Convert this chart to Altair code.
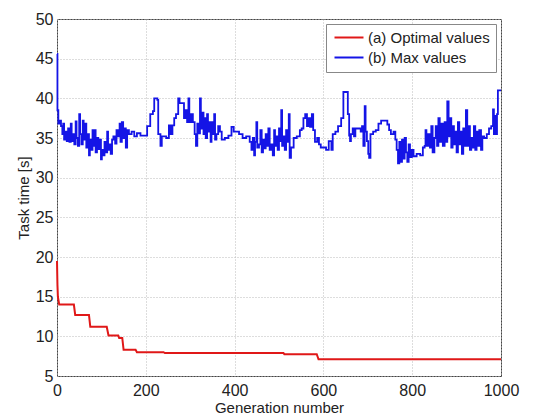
import altair as alt
import pandas as pd

# Red series: optimal values (generation, task time)
opt_gen = [0, 1, 2, 5, 38, 41, 72, 75, 112, 116, 138, 140, 147, 150, 177, 180, 240, 243, 510, 512, 585, 589, 1000]
opt_val = [19.5, 16.5, 15.0, 14.0, 14.0, 12.7, 12.7, 11.2, 11.2, 10.1, 10.1, 9.8, 9.8, 8.3, 8.3, 8.0, 8.0, 7.9, 7.9, 7.75, 7.75, 7.1, 7.1]

# Blue series: max values (generation, task time)
max_gen = [0, 1, 3, 6, 9, 12, 14, 16, 19, 22, 25, 28, 31, 33, 36, 39, 42, 44, 47, 50,
           52, 55, 58, 60, 63, 66, 69, 72, 74, 77, 80, 82, 85, 87, 90, 93, 96, 99, 101, 104,
           107, 110, 113, 115, 118, 121, 124, 127, 131, 134, 137, 141, 143, 146, 149, 152, 155, 158, 162, 168,
           174, 180, 188, 196, 203, 210, 216, 219, 226, 228, 233, 236, 246, 252, 256, 260, 264, 268, 273, 276,
           286, 290, 293, 296, 298, 302, 306, 310, 313, 316, 319, 322, 324, 327, 330, 333, 335, 338, 340, 343,
           346, 348, 351, 354, 356, 359, 363, 367, 371, 378, 386, 393, 398, 404, 410, 418, 426, 434, 438, 441,
           444, 446, 449, 451, 455, 458, 461, 464, 467, 470, 473, 476, 479, 482, 486, 489, 491, 494, 497, 500,
           502, 505, 507, 510, 513, 516, 519, 522, 524, 527, 533, 540, 547, 551, 555, 559, 563, 567, 570, 574,
           577, 581, 586, 590, 594, 600, 606, 612, 618, 621, 627, 633, 640, 645, 652, 655, 658, 660, 662, 666,
           669, 672, 678, 684, 687, 690, 693, 695, 698, 701, 703, 706, 712, 718, 724, 730, 738, 744, 748, 752,
           758, 762, 765, 768, 771, 774, 777, 780, 783, 786, 789, 792, 795, 799, 803, 810, 818, 824, 828, 830,
           832, 836, 840, 843, 846, 850, 853, 856, 859, 862, 866, 869, 873, 876, 879, 882, 885, 888, 891, 894,
           897, 900, 903, 906, 909, 912, 915, 918, 921, 924, 927, 930, 933, 936, 939, 942, 945, 948, 951, 955,
           958, 962, 968, 973, 978, 982, 984, 986, 988, 991, 993, 1000]
max_val = [45.6, 38.5, 36.8, 37.2, 36.5, 35.5, 36.8, 34.8, 35.8, 34.6, 36.2, 34.5, 36.8, 34.6, 35.5, 34.2, 37.1, 35.0, 34.0, 38.0,
           35.5, 34.2, 37.2, 34.8, 36.8, 33.8, 35.5, 32.8, 34.8, 33.5, 36.0, 34.0, 36.0, 33.2, 35.0, 33.6, 34.8, 32.3, 33.5, 32.8,
           34.5, 33.2, 35.8, 33.5, 34.2, 33.0, 34.8, 35.2, 34.3, 36.0, 35.2, 36.8, 34.5, 37.0, 35.0, 36.2, 33.8, 36.0, 35.5, 35.8,
           35.2, 35.6, 35.3, 35.3, 36.5, 38.0, 38.4, 40.0, 39.8, 35.5, 34.0, 35.2, 35.0, 36.6, 35.5, 36.6, 37.5, 38.0, 40.0, 39.4,
           37.5, 38.5, 37.0, 40.0, 37.0, 38.0, 37.0, 35.5, 34.0, 36.8, 35.6, 40.0, 36.2, 38.2, 35.5, 37.5, 35.0, 38.0, 35.8, 37.0,
           34.5, 37.0, 35.5, 38.0, 34.8, 35.5, 36.5, 35.8, 34.8, 35.0, 35.3, 36.4, 35.8, 35.8, 35.5, 35.0, 35.2, 34.5, 33.5, 35.0,
           32.8, 34.5, 37.0, 33.8, 34.2, 36.0, 33.2, 34.8, 33.7, 35.5, 34.0, 36.2, 33.5, 34.2, 32.8, 36.0, 34.0, 35.2, 33.5, 36.2,
           34.6, 38.5, 34.0, 35.2, 33.5, 36.0, 34.5, 38.0, 32.5, 33.8, 35.0, 35.2, 36.0, 36.2, 37.5, 38.0, 36.5, 37.5, 36.4, 38.0,
           36.0, 34.5, 35.0, 34.2, 33.8, 33.8, 33.5, 34.6, 33.5, 35.5, 35.8, 36.5, 37.5, 40.8, 40.8, 38.0, 35.3, 34.6, 35.5, 36.2,
           35.2, 36.2, 36.2, 35.8, 36.5, 34.0, 39.0, 35.8, 34.6, 33.0, 32.5, 35.5, 35.8, 36.0, 36.8, 37.2, 37.2, 36.7, 36.0, 35.5,
           35.8, 34.8, 33.5, 31.8, 34.5, 32.0, 34.8, 32.4, 35.0, 33.2, 32.0, 34.2, 32.6, 33.5, 32.7, 33.0, 32.8, 33.8, 34.0, 36.0,
           34.0, 35.5, 33.8, 36.5, 33.2, 35.0, 36.5, 34.0, 37.5, 34.5, 36.8, 34.0, 37.0, 34.5, 39.6, 35.2, 37.5, 33.8, 36.5, 34.2,
           35.8, 33.2, 37.0, 34.2, 35.8, 33.0, 36.2, 34.0, 38.5, 34.0, 36.5, 33.5, 35.0, 33.8, 36.5, 33.5, 35.8, 34.0, 36.0, 33.5,
           35.2, 35.0, 35.5, 36.2, 36.5, 38.6, 35.5, 37.8, 35.5, 38.0, 41.0, 41.0]

series_names = ["(a) Optimal values", "(b) Max values"]
series_colors = ["#e01818", "#1414e6"]
x_ticks = [0, 200, 400, 600, 800, 1000]
y_ticks = [5, 10, 15, 20, 25, 30, 35, 40, 45, 50]

df_opt = pd.DataFrame({"gen": opt_gen, "val": opt_val, "series": series_names[0]})
df_max = pd.DataFrame({"gen": max_gen, "val": max_val, "series": series_names[1]})

font = "Liberation Sans"

x_enc = alt.X("gen:Q", scale=alt.Scale(domain=[0, 1000], nice=False),
              axis=alt.Axis(values=x_ticks, format="d", title="Generation number",
                            labelPadding=6, titlePadding=2, labelFlush=False))
y_enc = alt.Y("val:Q", scale=alt.Scale(domain=[5, 50], nice=False),
              axis=alt.Axis(values=y_ticks, format="d", title="Task time [s]",
                            labelPadding=4, titlePadding=4, labelFlush=False))
color_enc = alt.Color("series:N",
                      scale=alt.Scale(domain=series_names, range=series_colors),
                      legend=alt.Legend(title=None, orient="none", legendX=269, legendY=5,
                                        symbolType="M-1,0H4.8", symbolSize=100, symbolStrokeWidth=2,
                                        labelFontSize=15, labelFont=font, labelColor="#222",
                                        padding=6, rowPadding=4, fillColor="white",
                                        strokeColor="#888", labelOffset=21))

red = alt.Chart(df_opt).mark_line(strokeWidth=2).encode(x=x_enc, y=y_enc, color=color_enc)
blue = alt.Chart(df_max).mark_line(strokeWidth=1.8, interpolate="step-after").encode(x=x_enc, y=y_enc, color=color_enc)

chart = alt.layer(red, blue).properties(
    width=444, height=357,
    autosize="none",
    padding={"left": 49, "top": 11, "right": 24, "bottom": 40},
).configure_axis(
    labelFont=font, titleFont=font, labelFontSize=16, titleFontSize=15,
    labelColor="#222", titleColor="#222", titleFontWeight="normal",
    grid=True, gridColor="#bbbbbb", gridDash=[1, 2], gridWidth=1,
    domain=False, ticks=False,
).configure_view(stroke="#444", strokeWidth=1)

chart.save("out.html", embed_options={"renderer": "svg", "actions": False})
